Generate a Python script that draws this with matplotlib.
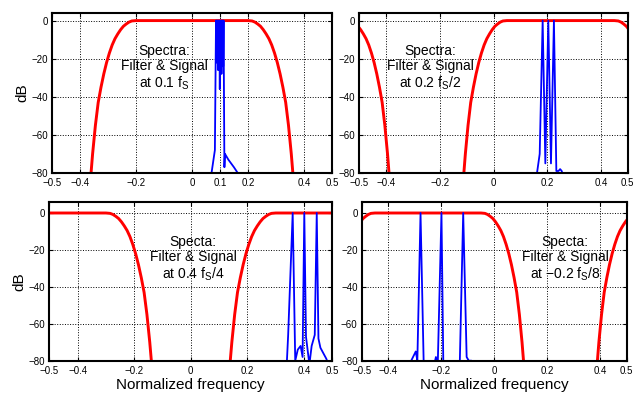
import numpy as np
import matplotlib
matplotlib.use("Agg")
import matplotlib.pyplot as plt
import matplotlib.ticker as ticker

plt.rcParams['font.family'] = ['Liberation Sans', 'DejaVu Sans']
plt.rcParams['mathtext.fontset'] = 'custom'
plt.rcParams['mathtext.rm'] = 'Liberation Sans'
plt.rcParams['mathtext.it'] = 'Liberation Sans'

# filter magnitude (one side), offset from centre frequency -> dB
filt_offset = [0.0, 0.20, 0.215, 0.225, 0.235, 0.245, 0.255, 0.265, 0.275, 0.285,
               0.295, 0.305, 0.315, 0.325, 0.335, 0.345, 0.355, 0.365]
filt_db = [0, 0, -0.2, -0.8, -1.8, -3, -4.8, -7, -9.5, -12.8,
           -17, -22, -28, -35, -43, -55, -70, -88]

# centre of the filter passband in each panel (with aliased copies)
tl_centres = [0.0]
tr_centres = [0.25, -0.75]
bl_centres = [-0.5, 0.5]
br_centres = [-0.25, 0.75]

# signal spectra
tl_sig_f = [0.070, 0.082, 0.086, 0.0875, 0.089, 0.0905, 0.092, 0.0935, 0.095, 0.0965,
            0.098, 0.0995, 0.101, 0.1025, 0.104, 0.1055, 0.107, 0.1085, 0.110, 0.1115,
            0.113, 0.1145, 0.116, 0.118, 0.130, 0.150, 0.168]
tl_sig_db = [-80, -68, 0, -22, 0, -12, 0, -26, 0, -20,
             0, -36, 0, -15, 0, -28, 0, -10, 0, -24,
             0, -40, -77, -70, -73, -77, -81]

tr_sig_f = [0.160, 0.172, 0.183, 0.193, 0.204, 0.214, 0.225, 0.234, 0.242, 0.248, 0.254, 0.260]
tr_sig_db = [-82, -70, 0, -75, 0, -75, 0, -79, -79, -78, -79, -82]

bl_sig_f = [0.339, 0.344, 0.360, 0.369, 0.378, 0.388, 0.395, 0.401, 0.407, 0.419, 0.427,
            0.438, 0.445, 0.451, 0.458, 0.465, 0.479, 0.486]
bl_sig_db = [-82, -66, 0, -80, -74, -72, -78, 0, -67, -82, -72,
             -66, 0, -68, -73, -75, -79, -82]

br_sig_f = [-0.320, -0.296, -0.290, -0.278, -0.266, -0.226, -0.220, -0.213, -0.199, -0.192,
            -0.130, -0.117, -0.104, -0.096, -0.088]
br_sig_db = [-82, -75, -80, 0, -82, -82, -78, -82, 0, -82,
             -82, 0, -78, -80, -80]

texts = ["Spectra:\nFilter & Signal\nat 0.1 f$_\\mathrm{S}$",
         "Spectra:\nFilter & Signal\nat 0.2 f$_\\mathrm{S}$/2",
         "Specta:\nFilter & Signal\nat 0.4 f$_\\mathrm{S}$/4",
         "Specta:\nFilter & Signal\nat \u22120.2 f$_\\mathrm{S}$/8"]
text_x = [-0.10, -0.235, 0.008, 0.267]

fig = plt.figure(figsize=(6.36, 3.93), dpi=100)

positions = [[0.0818, 0.560, 0.440, 0.407],
             [0.565, 0.560, 0.422, 0.407],
             [0.0775, 0.0822, 0.445, 0.404],
             [0.5687, 0.0822, 0.4167, 0.404]]
centres = [tl_centres, tr_centres, bl_centres, br_centres]
signals = [(tl_sig_f, tl_sig_db), (tr_sig_f, tr_sig_db),
           (bl_sig_f, bl_sig_db), (br_sig_f, br_sig_db)]

off = np.array(filt_offset)
mag = np.array(filt_db)
x_side = np.concatenate([-off[::-1], off[1:]])
y_side = np.concatenate([mag[::-1], mag[1:]])

for i in range(4):
    ax = fig.add_axes(positions[i])
    for c in centres[i]:
        ax.plot(x_side + c, y_side, color='red', lw=2.1, solid_capstyle='butt')
    ax.plot(signals[i][0], signals[i][1], color='blue', lw=1.3)

    ax.set_xlim(-0.5, 0.5)
    ax.set_ylim(-80, 4 if i < 2 else 6)
    if i == 0:
        ax.set_xticks([-0.5, -0.4, -0.2, 0, 0.1, 0.2, 0.4, 0.5])
    else:
        ax.set_xticks([-0.5, -0.4, -0.2, 0, 0.2, 0.4, 0.5])
    ax.xaxis.set_major_formatter(ticker.FuncFormatter(
        lambda v, p: ('%g' % v).replace('-', '\u2212')))
    ax.set_yticks([-80, -60, -40, -20, 0])
    ax.grid(True, color='black', ls=':', lw=0.7)
    ax.tick_params(direction='in', top=True, right=True, length=3,
                   labelsize=7)
    ax.tick_params(axis='x', pad=4)
    ax.tick_params(axis='y', pad=3)
    for s in ax.spines.values():
        s.set_linewidth(1.5)

    ax.text(text_x[i], -25, texts[i], ha='center', va='center',
            fontsize=10, linespacing=1.1)

    if i % 2 == 0:
        ax.set_ylabel('dB', fontsize=11)
        ax.yaxis.set_label_coords(-0.082, 0.5)
    if i >= 2:
        ax.set_xlabel('Normalized frequency', fontsize=11, labelpad=1)

fig.savefig('out.png', dpi=100)
